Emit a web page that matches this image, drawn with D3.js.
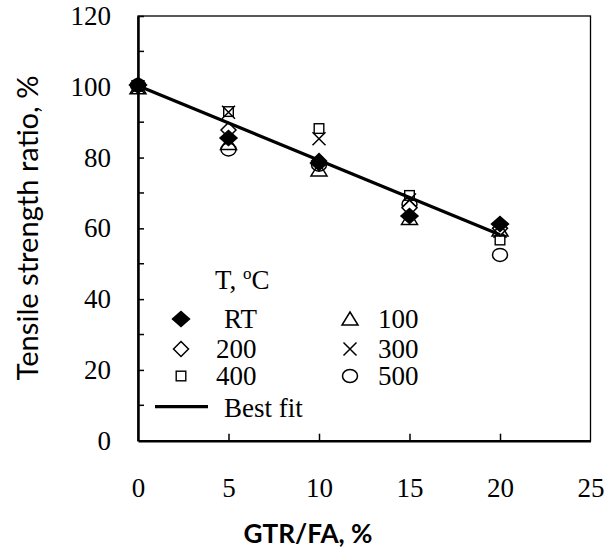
<html>
<head>
<meta charset="utf-8">
<script src="https://cdnjs.cloudflare.com/ajax/libs/d3/7.8.5/d3.min.js"></script>
<style>
  body { margin: 0; background: white; }
</style>
</head>
<body>
<script>
// data
var gtr = [0, 5, 10, 15, 20];
var tRT  = [100.5, 85.5, 78.5, 63.5, 61.2];
var t100 = [99.7, 84.0, 76.5, 62.8, 59.5];
var t200 = [100.3, 87.8, 79.0, 65.8, 60.0];
var t300 = [100.0, 92.8, 85.3, 68.0, 59.2];
var t400 = [100.2, 93.0, 88.2, 69.3, 56.7];
var t500 = [100.4, 82.3, 78.0, 66.8, 52.5];
var fitX = [0, 20];
var fitY = [100.3, 58.2];
var xTicks = [0, 5, 10, 15, 20, 25];
var yTicks = [0, 20, 40, 60, 80, 100, 120];
var yMinor = [10, 30, 50, 70, 90, 110];

var width = 613, height = 552;
var plotLeft = 138, plotRight = 590.5, plotTop = 16, plotBottom = 440.7;

var svg = d3.select("body").append("svg")
  .attr("width", width)
  .attr("height", height);

var x = d3.scaleLinear().domain([0, 25]).range([plotLeft, plotRight]);
var y = d3.scaleLinear().domain([0, 120]).range([plotBottom, plotTop]);

var serif = "'Liberation Serif', 'Times New Roman', serif";
var sans = "Lato, 'Open Sans', sans-serif";

// frame
svg.append("rect")
  .attr("x", plotLeft).attr("y", plotTop)
  .attr("width", plotRight - plotLeft).attr("height", plotBottom - plotTop)
  .attr("fill", "none").attr("stroke", "black").attr("stroke-width", 1.3);

// x axis (ticks point inward)
var xAxis = svg.append("g")
  .attr("transform", "translate(0," + plotBottom + ")")
  .call(d3.axisBottom(x).tickValues(xTicks).tickSizeInner(-7).tickSizeOuter(0).tickPadding(37));
xAxis.select(".domain").attr("stroke-width", 2.5);
xAxis.selectAll(".tick line").attr("stroke-width", 1.5);
xAxis.selectAll(".tick").filter(function(d) { return d == 0 || d == 25; }).select("line").remove();
xAxis.selectAll("text").attr("font-family", serif).attr("font-size", 27).attr("fill", "black");

// y axis
var yAxis = svg.append("g")
  .attr("transform", "translate(" + plotLeft + ",0)")
  .call(d3.axisLeft(y).tickValues(yTicks).tickSizeInner(-6).tickSizeOuter(0).tickPadding(27));
yAxis.select(".domain").attr("stroke-width", 2.5);
yAxis.selectAll(".tick line").attr("stroke-width", 1.5);
yAxis.selectAll(".tick").filter(function(d) { return d == 0; }).select("line").remove();
yAxis.selectAll("text").attr("font-family", serif).attr("font-size", 27).attr("fill", "black");

svg.append("g").selectAll("line")
  .data(yMinor).enter().append("line")
  .attr("x1", plotLeft).attr("x2", plotLeft + 6)
  .attr("y1", function(d) { return y(d); })
  .attr("y2", function(d) { return y(d); })
  .attr("stroke", "black").attr("stroke-width", 1.5);

// axis titles, sized to the reference's text length
function fitText(t, target) {
  var len = t.node().getComputedTextLength();
  var fs = +t.attr("font-size");
  t.attr("font-size", fs * target / len);
}

var xTitle = svg.append("text")
  .attr("x", 308).attr("y", 543)
  .attr("text-anchor", "middle")
  .attr("font-family", sans)
  .attr("font-weight", "bold")
  .attr("font-size", 26)
  .text("GTR/FA, %");
fitText(xTitle, 129);

var yTitle = svg.append("text")
  .attr("transform", "translate(38,228) rotate(-90)")
  .attr("text-anchor", "middle")
  .attr("font-family", sans)
  .attr("font-size", 26)
  .text("Tensile strength ratio, %");
fitText(yTitle, 305);

// marker shapes
function marker(g, type, cx, cy) {
  if (type == "diamondFill" || type == "diamondOpen") {
    var rx = type == "diamondFill" ? 8.5 : 7.5;
    var ry = type == "diamondFill" ? 7.5 : 7.5;
    g.append("path")
      .attr("d", "M" + cx + "," + (cy - ry) + "L" + (cx + rx) + "," + cy + "L" + cx + "," + (cy + ry) + "L" + (cx - rx) + "," + cy + "Z")
      .attr("fill", type == "diamondFill" ? "black" : "white")
      .attr("stroke", "black").attr("stroke-width", 1.5);
  } else if (type == "triangle") {
    g.append("path")
      .attr("d", "M" + cx + "," + (cy - 7) + "L" + (cx + 8) + "," + (cy + 6) + "L" + (cx - 8) + "," + (cy + 6) + "Z")
      .attr("fill", "none").attr("stroke", "black").attr("stroke-width", 1.5);
  } else if (type == "cross") {
    var c = 6.5;
    g.append("path")
      .attr("d", "M" + (cx - c) + "," + (cy - c) + "L" + (cx + c) + "," + (cy + c) + "M" + (cx + c) + "," + (cy - c) + "L" + (cx - c) + "," + (cy + c))
      .attr("fill", "none").attr("stroke", "black").attr("stroke-width", 1.5);
  } else if (type == "square") {
    var q = 4.8;
    g.append("rect")
      .attr("x", cx - q).attr("y", cy - q).attr("width", 2 * q).attr("height", 2 * q)
      .attr("fill", "none").attr("stroke", "black").attr("stroke-width", 1.4);
  } else if (type == "circle") {
    g.append("ellipse")
      .attr("cx", cx).attr("cy", cy).attr("rx", 7.5).attr("ry", 6.5)
      .attr("fill", "none").attr("stroke", "black").attr("stroke-width", 1.5);
  }
}

var series = [
  { name: "400", type: "square", values: t400 },
  { name: "300", type: "cross", values: t300 },
  { name: "500", type: "circle", values: t500 },
  { name: "200", type: "diamondOpen", values: t200 },
  { name: "100", type: "triangle", values: t100 },
  { name: "RT", type: "diamondFill", values: tRT }
];

var pts = svg.append("g");
series.forEach(function(s) {
  s.values.forEach(function(v, i) {
    marker(pts, s.type, x(gtr[i]), y(v));
  });
});

// best fit line
svg.append("line")
  .attr("x1", x(fitX[0])).attr("y1", y(fitY[0]))
  .attr("x2", x(fitX[1])).attr("y2", y(fitY[1]))
  .attr("stroke", "black").attr("stroke-width", 3.2);

// legend
var leg = svg.append("g").attr("font-family", serif).attr("font-size", 27);
var title = leg.append("text").attr("x", 215).attr("y", 289);
title.append("tspan").text("T, ");
title.append("tspan").attr("dy", -10).attr("font-size", 17).text("o");
title.append("tspan").attr("dy", 10).text("C");

var legendItems = [
  { label: "RT", type: "diamondFill", col: 0, row: 0 },
  { label: "100", type: "triangle", col: 1, row: 0 },
  { label: "200", type: "diamondOpen", col: 0, row: 1 },
  { label: "300", type: "cross", col: 1, row: 1 },
  { label: "400", type: "square", col: 0, row: 2 },
  { label: "500", type: "circle", col: 1, row: 2 }
];
var rowY = [319, 349, 376];
legendItems.forEach(function(d) {
  var mx = d.col == 0 ? 181 : 350;
  var my = rowY[d.row];
  marker(leg, d.type, mx, my);
  leg.append("text")
    .attr("x", d.col == 0 ? (d.label == "RT" ? 224 : 216) : 378)
    .attr("y", my + 8.5)
    .text(d.label);
});
leg.append("line")
  .attr("x1", 155).attr("x2", 208).attr("y1", 406.7).attr("y2", 406.7)
  .attr("stroke", "black").attr("stroke-width", 3.2);
leg.append("text").attr("x", 224).attr("y", 416.5).text("Best fit");
</script>
</body>
</html>
